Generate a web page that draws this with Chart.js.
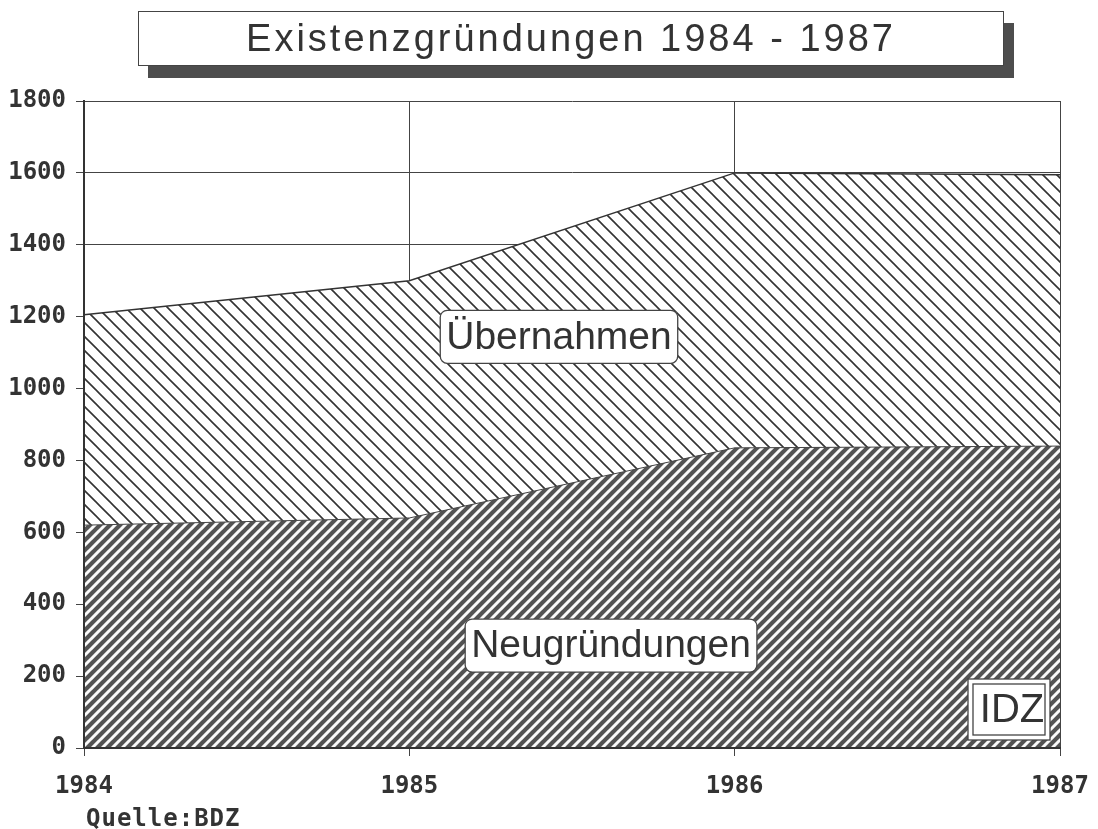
<!DOCTYPE html>
<html>
<head>
<meta charset="utf-8">
<script src="https://cdn.jsdelivr.net/npm/chart.js@4.4.0/dist/chart.umd.min.js"></script>
<style>
body { margin: 0; background: #fff; }
#wrap { position: relative; width: 1098px; height: 829px; }
#title {
    position: absolute; left: 138px; top: 11px; width: 864px; height: 53px;
    border: 1.5px solid #444; background: #fff; box-shadow: 10px 12px 0 #4d4d4d;
    font: 38px "Liberation Sans", sans-serif; color: #333; letter-spacing: 3px;
    text-align: center; line-height: 53px;
}
#source { position: absolute; left: 86px; top: 804px; font: bold 24px "DejaVu Sans Mono", monospace; letter-spacing: 1px; color: #333; }
</style>
</head>
<body>
<div id="wrap">
    <canvas id="chart" width="1098" height="829"></canvas>
    <div id="title">Existenzgründungen 1984 - 1987</div>
    <div id="source">Quelle:BDZ</div>
</div>
<script>
var years = [1984, 1985, 1986, 1987];
var neugruendungen = [620, 640, 835, 840];
var uebernahmen = [585, 660, 765, 755];
var seriesNames = ["Neugründungen", "Übernahmen"];

// Build a diagonal hatch pattern on a small tile.
function hatch(size, bg, fg, width, dir) {
    var c = document.createElement("canvas");
    c.width = size;
    c.height = size;
    var g = c.getContext("2d");
    g.fillStyle = bg;
    g.fillRect(0, 0, size, size);
    g.strokeStyle = fg;
    g.lineWidth = width;
    g.beginPath();
    for (let k = -1; k <= 2; k++) {
        var c0 = k * size;
        if (dir === "/") {
            g.moveTo(c0 + 1, -1);
            g.lineTo(c0 - size - 1, size + 1);
        } else {
            g.moveTo(c0 - 1, -1);
            g.lineTo(c0 + size + 1, size + 1);
        }
    }
    g.stroke();
    return g.createPattern(c, "repeat");
}

var ctx = document.getElementById("chart").getContext("2d");
var darkHatch = hatch(10, "#535353", "#fafafa", 3, "/");
var lightHatch = hatch(14, "#ffffff", "#333333", 1.6, "\\");

var tickFont = { family: "DejaVu Sans Mono", weight: "bold", size: 24 };

// Draw a framed text label.
function labelBox(g, text, cx, cy, size, pad) {
    g.font = size + "px 'Liberation Sans', sans-serif";
    var w = g.measureText(text).width + pad * 2;
    var h = 53;
    g.fillStyle = "#fff";
    g.strokeStyle = "#444";
    g.lineWidth = 1.3;
    g.beginPath();
    g.roundRect(cx - w / 2, cy - h / 2, w, h, 7);
    g.fill();
    g.stroke();
    g.fillStyle = "#333";
    g.textAlign = "center";
    g.textBaseline = "middle";
    g.fillText(text, cx, cy + 1);
}

const overlay = {
    id: "overlay",
    afterDatasetsDraw(chart) {
        var g = chart.ctx;
        var a = chart.chartArea;
        var x = chart.scales.x;
        var y = chart.scales.y;
        g.save();
        // axis lines on top of the fills
        g.strokeStyle = "#333";
        g.lineWidth = 2;
        g.beginPath();
        g.moveTo(a.left, a.top);
        g.lineTo(a.left, a.bottom);
        g.lineTo(a.right, a.bottom);
        g.stroke();

        labelBox(g, seriesNames[1], x.getPixelForValue(1985.46), y.getPixelForValue(1144), 39, 6);
        labelBox(g, seriesNames[0], x.getPixelForValue(1985.62), y.getPixelForValue(285), 39, 6);

        // IDZ box with double frame
        var bx = a.right - 92, by = a.bottom - 69, bw = 82, bh = 61;
        g.fillStyle = "#fff";
        g.fillRect(bx, by, bw, bh);
        g.strokeStyle = "#444";
        g.lineWidth = 1.3;
        g.strokeRect(bx, by, bw, bh);
        g.strokeRect(bx + 5, by + 5, bw - 10, bh - 10);
        g.font = "40px 'Liberation Sans', sans-serif";
        g.fillStyle = "#333";
        g.textAlign = "center";
        g.textBaseline = "middle";
        g.fillText("IDZ", bx + bw / 2 + 3, by + bh / 2 + 1);
        g.restore();
    }
};

const chart = new Chart(ctx, {
    type: "line",
    data: {
        datasets: [{
            label: seriesNames[0],
            data: years.map((yr, i) => ({ x: yr, y: neugruendungen[i] })),
            backgroundColor: darkHatch,
            borderColor: "#444",
            borderWidth: 1,
            fill: "origin"
        }, {
            label: seriesNames[1],
            data: years.map((yr, i) => ({ x: yr, y: uebernahmen[i] })),
            backgroundColor: lightHatch,
            borderColor: "#333",
            borderWidth: 1.5,
            fill: "-1"
        }]
    },
    options: {
        responsive: false,
        animation: false,
        events: [],
        layout: { padding: { top: 101, right: 38, bottom: 0, left: 0 } },
        elements: { point: { radius: 0 }, line: { tension: 0 } },
        plugins: { legend: { display: false }, tooltip: { enabled: false } },
        scales: {
            x: {
                type: "linear",
                min: 1984,
                max: 1987,
                afterFit: (s) => { s.height = 81; s.paddingLeft = 0; s.paddingRight = 0; },
                ticks: { stepSize: 1, callback: (v) => String(v), font: tickFont, color: "#333", padding: 16, maxRotation: 0 },
                grid: { color: "#444", lineWidth: 1, tickLength: 8 },
                border: { color: "#333", width: 2 }
            },
            y: {
                stacked: true,
                min: 0,
                max: 1800,
                afterFit: (s) => { s.width = 84; },
                ticks: { stepSize: 200, callback: (v) => String(v), font: tickFont, color: "#333", padding: 10 },
                grid: { color: "#444", lineWidth: 1, tickLength: 8 },
                border: { color: "#333", width: 2 }
            }
        }
    },
    plugins: [overlay]
});
</script>
</body>
</html>
